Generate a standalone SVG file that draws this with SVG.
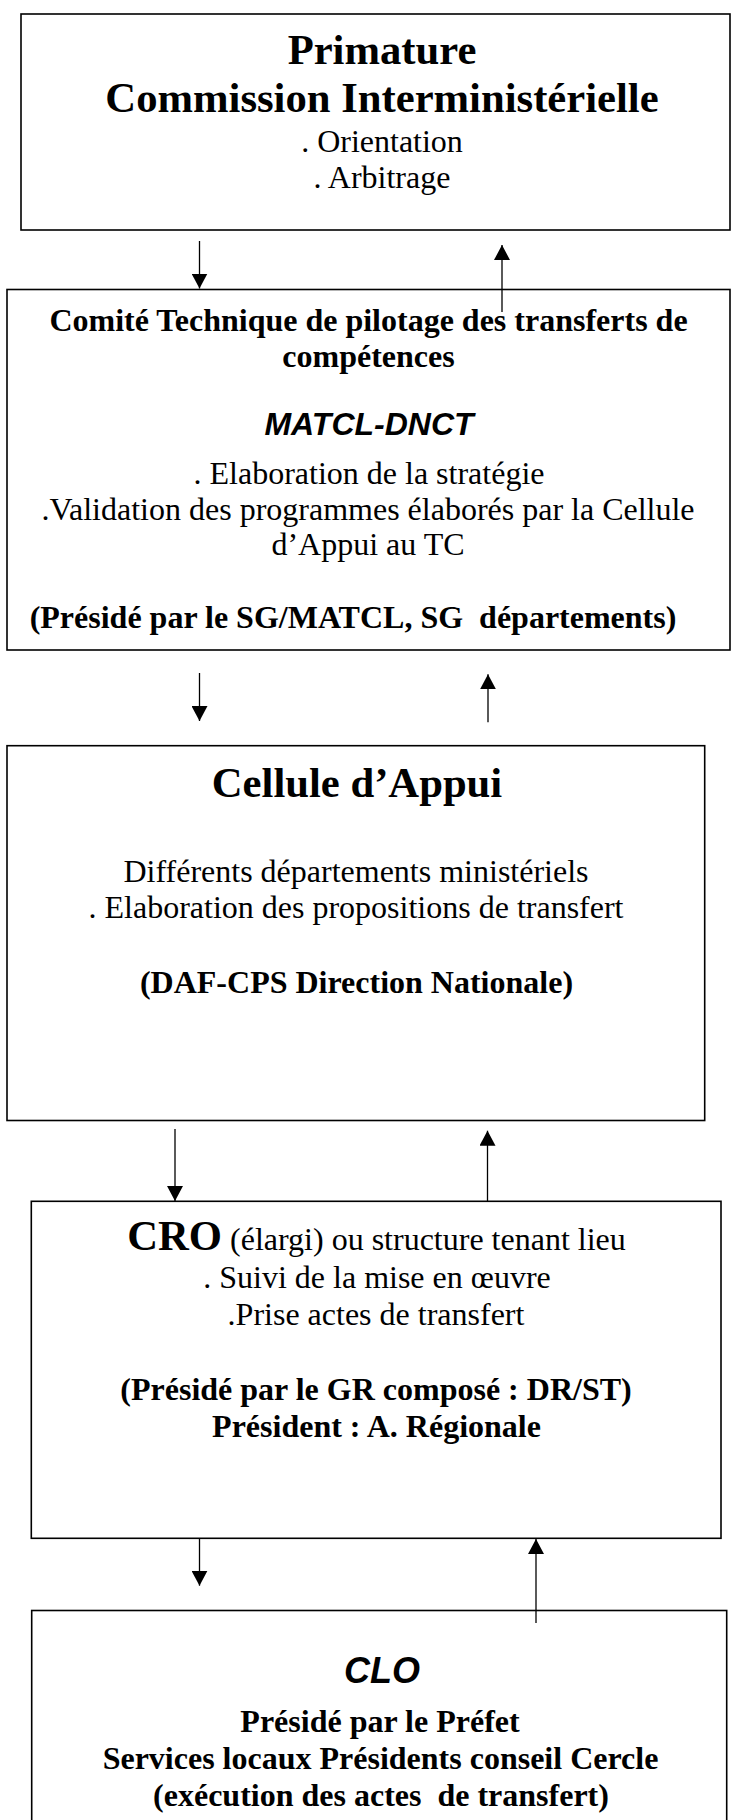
<svg xmlns="http://www.w3.org/2000/svg" width="731" height="1820" viewBox="0 0 731 1820">
<style>
.box{fill:#fff;stroke:#000;stroke-width:1.6}
.t{font-family:"Liberation Serif","Times New Roman",serif;font-size:32px;fill:#000;text-anchor:middle}
.b{font-weight:bold}
.big{font-family:"Liberation Serif","Times New Roman",serif;font-size:42.67px;font-weight:bold}
.ai{font-family:"Liberation Sans",Arial,sans-serif;font-weight:bold;font-style:italic;font-size:32px;fill:#000;text-anchor:middle}
.c{stroke:#000;stroke-width:1.3;fill:none}
</style>
<defs>
<marker id="ah" viewBox="0 0 15 16" refX="15" refY="8" markerWidth="15" markerHeight="16" markerUnits="userSpaceOnUse" orient="auto">
<path d="M0,0 L15,8 L0,16 z" fill="#000"/>
</marker>
</defs>
<g id="n1">
<rect class="box" x="21" y="14" width="709" height="216"/>
<text class="t big" x="382" y="64">Primature</text>
<text class="t big" x="382" y="112">Commission Interministérielle</text>
<text class="t" x="382" y="152">. Orientation</text>
<text class="t" x="382" y="187.5">. Arbitrage</text>
</g>
<g id="n2">
<rect class="box" x="7" y="289.5" width="723" height="360.5"/>
<text class="t b" x="368.5" y="331">Comité Technique de pilotage des transferts de</text>
<text class="t b" x="368.5" y="366.5">compétences</text>
<text class="ai" x="369" y="434.5">MATCL-DNCT</text>
<text class="t" x="369" y="484">. Elaboration de la stratégie</text>
<text class="t" x="368" y="519.5">.Validation des programmes élaborés par la Cellule</text>
<text class="t" x="368" y="555">d’Appui au TC</text>
<text class="t b" x="353" y="628" xml:space="preserve">(Présidé par le SG/MATCL, SG  départements)</text>
</g>
<g id="n3">
<rect class="box" x="7" y="745.7" width="697.7" height="374.8"/>
<text class="t big" x="357" y="797">Cellule d’Appui</text>
<text class="t" x="356" y="882">Différents départements ministériels</text>
<text class="t" x="356" y="918">. Elaboration des propositions de transfert</text>
<text class="t b" x="356.5" y="993">(DAF-CPS Direction Nationale)</text>
</g>
<g id="n4">
<rect class="box" x="31.3" y="1201.3" width="689.7" height="337"/>
<text class="t" x="376.5" y="1250"><tspan class="big">CRO</tspan> (élargi) ou structure tenant lieu</text>
<text class="t" x="377" y="1288">. Suivi de la mise en œuvre</text>
<text class="t" x="376" y="1325">.Prise actes de transfert</text>
<text class="t b" x="376" y="1400">(Présidé par le GR composé : DR/ST)</text>
<text class="t b" x="376.5" y="1437">Président : A. Régionale</text>
</g>
<g id="n5">
<rect class="box" x="31.7" y="1610.5" width="695" height="230"/>
<text class="ai" x="382" y="1683" style="font-size:36px">CLO</text>
<text class="t b" x="380" y="1732">Présidé par le Préfet</text>
<text class="t b" x="380.5" y="1769">Services locaux Présidents conseil Cercle</text>
<text class="t b" x="381" y="1806" xml:space="preserve">(exécution des actes  de transfert)</text>
</g>
<g id="connectors">
<line class="c" x1="199.5" y1="241" x2="199.5" y2="288.5" marker-end="url(#ah)"/>
<line class="c" x1="502" y1="312" x2="502" y2="245" marker-end="url(#ah)"/>
<line class="c" x1="199.5" y1="673" x2="199.5" y2="721" marker-end="url(#ah)"/>
<line class="c" x1="488" y1="722.3" x2="488" y2="674.3" marker-end="url(#ah)"/>
<line class="c" x1="175" y1="1129" x2="175" y2="1201" marker-end="url(#ah)"/>
<line class="c" x1="487.5" y1="1201" x2="487.5" y2="1130.7" marker-end="url(#ah)"/>
<line class="c" x1="199.5" y1="1538.3" x2="199.5" y2="1585.7" marker-end="url(#ah)"/>
<line class="c" x1="536" y1="1623" x2="536" y2="1539" marker-end="url(#ah)"/>
</g>
</svg>
